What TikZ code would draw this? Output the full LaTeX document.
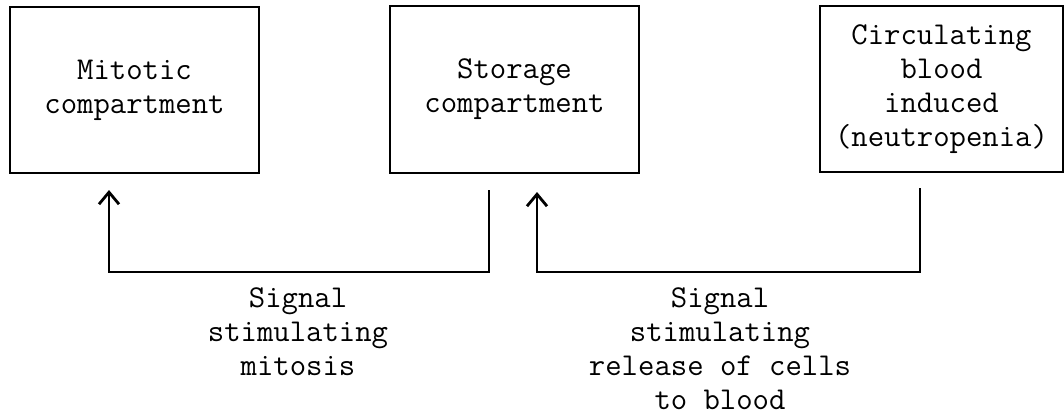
\documentclass[tikz,border=0pt]{standalone}
\usepackage{fontspec}
\usetikzlibrary{arrows.meta}
\tikzstyle{every node}=[font=\ttfamily\fontsize{15.9}{17}\selectfont,align=center]
\tikzstyle{compartment}=[draw=black,line width=1pt,inner sep=0pt]
\tikzstyle{signal}=[draw=black,line width=0.8pt]
\tikzstyle{feedback}=[signal,-{Straight Barb[length=6pt,width=10pt,line width=1.4pt]}]

\begin{document}
\begin{tikzpicture}[x=0.5pt,y=-0.5pt]
        \useasboundingbox (0,0) rectangle (1064,418);
        \node[compartment,minimum width=124.5pt,minimum height=83pt] (mitotic) at (134.5,90) {Mitotic\\compartment};
        \node[compartment,minimum width=124.5pt,minimum height=83.5pt] (storage) at (514.5,89.5) {Storage\\compartment};
        \node[compartment,minimum width=121.5pt,minimum height=83pt] (blood) at (941.5,89) {Circulating\\blood\\induced\\(neutropenia)};
        \coordinate (bus) at (0,272);
        \coordinate (mitfrom) at (489,190);
        \coordinate (mitto) at (109,190);
        \coordinate (relfrom) at (920,188);
        \coordinate (relto) at (537,192);
        \draw[feedback] (mitfrom) -- (mitfrom |- bus) -| (mitto);
        \draw[feedback] (relfrom) -- (relfrom |- bus) -| (relto);
        % base is the last line here
        \node[anchor=base] (mitsignal) at (298,375) {Signal\\stimulating\\mitosis};
        \node[anchor=base] (relsignal) at (720,409) {Signal\\stimulating\\release of cells\\to blood};
\end{tikzpicture}
\end{document}
